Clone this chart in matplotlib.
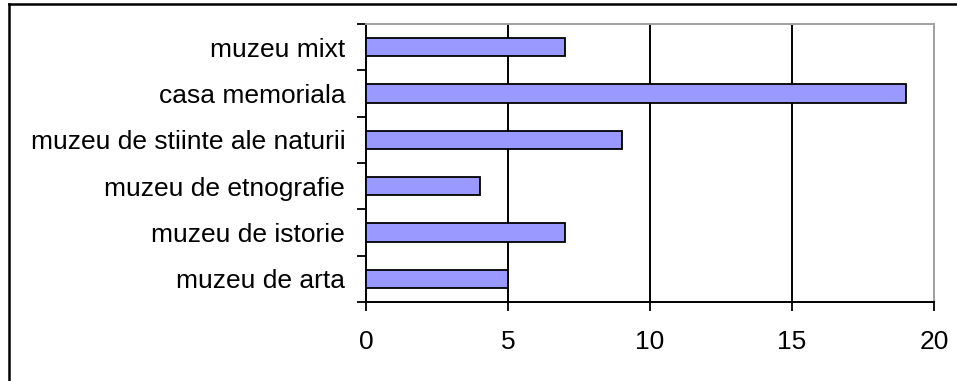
import matplotlib
matplotlib.use("Agg")
import matplotlib.pyplot as plt
from matplotlib.lines import Line2D

categories = ["muzeu de arta", "muzeu de istorie", "muzeu de etnografie",
              "muzeu de stiinte ale naturii", "casa memoriala", "muzeu mixt"]
counts = [5, 7, 4, 9, 19, 7]
x_ticks = [0, 5, 10, 15, 20]

plt.rcParams["font.family"] = ["Liberation Sans", "DejaVu Sans"]

W, H = 957, 381
fig = plt.figure(figsize=(W / 100, H / 100), dpi=100)
ax = fig.add_axes([366 / W, 1 - 302 / H, (934 - 366) / W, (302 - 24) / H])

pos = list(range(len(categories)))
ax.barh(pos, counts, height=0.4, color="#9999FF", edgecolor="black",
        linewidth=1.3, zorder=3)

ax.set_xlim(0, 20)
ax.set_ylim(-0.5, len(categories) - 0.5)
ax.set_xticks(x_ticks)
ax.set_xticklabels([str(t) for t in x_ticks])
ax.set_yticks(pos)
ax.set_yticklabels(categories)
ax.set_yticks([p - 0.5 for p in pos] + [len(categories) - 0.5], minor=True)

ax.tick_params(axis="y", which="major", length=0, pad=15, labelsize=19)
ax.tick_params(axis="y", which="minor", length=6.5, width=1.3, direction="out",
               color="black")
ax.tick_params(axis="x", which="major", length=6.5, width=1.3, direction="out",
               pad=14, labelsize=19, color="black")

for x in x_ticks[1:-1]:
    ax.axvline(x, color="black", linewidth=1.4, zorder=1)

ax.spines["left"].set_color("black")
ax.spines["bottom"].set_color("black")
ax.spines["left"].set_linewidth(1.4)
ax.spines["bottom"].set_linewidth(1.4)
ax.spines["top"].set_color("#A0A0A0")
ax.spines["right"].set_color("#A0A0A0")
ax.spines["top"].set_linewidth(1.4)
ax.spines["right"].set_linewidth(1.4)

# chart-area frame along the left and top edges
fig.add_artist(Line2D([8.5 / W, 8.5 / W], [0, 1 - 3.5 / H], color="black",
                      linewidth=1.8, transform=fig.transFigure))
fig.add_artist(Line2D([8.5 / W, 1], [1 - 3.5 / H, 1 - 3.5 / H], color="black",
                      linewidth=1.8, transform=fig.transFigure))

fig.savefig("out.png", dpi=100)
